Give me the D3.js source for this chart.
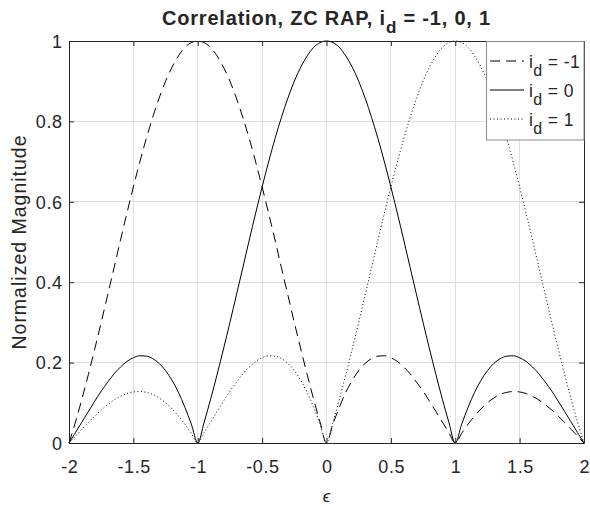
<!DOCTYPE html>
<html><head><meta charset="utf-8">
<script src="https://cdn.jsdelivr.net/npm/d3@7"></script>
<style>
html,body{margin:0;padding:0;background:#fff;}
svg text{font-family:"Liberation Sans",Arial,Helvetica,sans-serif;fill:#262626;}
</style></head>
<body><svg id="chart" width="590" height="506"></svg>
<script>
// ---- data ----
const eps = [-2,-1.95,-1.9,-1.85,-1.8,-1.75,-1.7,-1.65,-1.6,-1.55,
  -1.5,-1.45,-1.4,-1.35,-1.3,-1.25,-1.2,-1.15,-1.1,-1.05,
  -1,-0.95,-0.9,-0.85,-0.8,-0.75,-0.7,-0.65,-0.6,-0.55,
  -0.5,-0.45,-0.4,-0.35,-0.3,-0.25,-0.2,-0.15,-0.1,-0.05,
  0,
  0.05,0.1,0.15,0.2,0.25,0.3,0.35,0.4,0.45,0.5,
  0.55,0.6,0.65,0.7,0.75,0.8,0.85,0.9,0.95,1,
  1.05,1.1,1.15,1.2,1.25,1.3,1.35,1.4,1.45,1.5,
  1.55,1.6,1.65,1.7,1.75,1.8,1.85,1.9,1.95,2];

const idMinus1 = [0.000,0.052,0.109,0.170,0.234,0.300,0.368,0.436,0.505,0.572,
  0.637,0.699,0.757,0.810,0.858,0.900,0.935,0.963,0.984,0.996,
  1.000,
  0.996,0.984,0.963,0.935,0.900,0.858,0.810,0.757,0.699,0.637,
  0.572,0.505,0.436,0.368,0.300,0.234,0.170,0.109,0.052,0.000,
  0.047,0.089,0.126,0.156,0.180,0.198,0.210,0.216,0.217,0.212,
  0.203,0.189,0.172,0.151,0.129,0.104,0.078,0.052,0.026,0.000,
  0.024,0.047,0.067,0.085,0.100,0.112,0.121,0.126,0.128,0.127,
  0.123,0.116,0.107,0.095,0.082,0.067,0.051,0.034,0.017,0.000];

const id0 = [0.000,0.026,0.052,0.078,0.104,0.129,0.151,0.172,0.189,0.203,
  0.212,0.217,0.216,0.210,0.198,0.180,0.156,0.126,0.089,0.047,
  0.000,0.052,0.109,0.170,0.234,0.300,0.368,0.436,0.505,0.572,
  0.637,0.699,0.757,0.810,0.858,0.900,0.935,0.963,0.984,0.996,
  1.000,
  0.996,0.984,0.963,0.935,0.900,0.858,0.810,0.757,0.699,0.637,
  0.572,0.505,0.436,0.368,0.300,0.234,0.170,0.109,0.052,0.000,
  0.047,0.089,0.126,0.156,0.180,0.198,0.210,0.216,0.217,0.212,
  0.203,0.189,0.172,0.151,0.129,0.104,0.078,0.052,0.026,0.000];

const idPlus1 = [0.000,0.017,0.034,0.051,0.067,0.082,0.095,0.107,0.116,0.123,
  0.127,0.128,0.126,0.121,0.112,0.100,0.085,0.067,0.047,0.024,
  0.000,0.026,0.052,0.078,0.104,0.129,0.151,0.172,0.189,0.203,
  0.212,0.217,0.216,0.210,0.198,0.180,0.156,0.126,0.089,0.047,
  0.000,
  0.052,0.109,0.170,0.234,0.300,0.368,0.436,0.505,0.572,0.637,
  0.699,0.757,0.810,0.858,0.900,0.935,0.963,0.984,0.996,1.000,
  0.996,0.984,0.963,0.935,0.900,0.858,0.810,0.757,0.699,0.637,
  0.572,0.505,0.436,0.368,0.300,0.234,0.170,0.109,0.052,0.000];

const seriesLabels = ["-1", "0", "1"];
const xTicks = [-2,-1.5,-1,-0.5,0,0.5,1,1.5,2];
const yTicks = [0,0.2,0.4,0.6,0.8,1];
const titleMain = "Correlation, ZC RAP, i";
const titleSub = "d";
const titleRest = " = -1, 0, 1";
const xLabel = "\u03F5";
const yLabel = "Normalized Magnitude";

// ---- layout ----
const L = 69, R = 584, T = 41, B = 443;
const svg = d3.select("#chart");
const x = d3.scaleLinear().domain([-2, 2]).range([L, R]);
const y = d3.scaleLinear().domain([0, 1]).range([B, T]);
const ink = "#262626";
const FONT = '"Liberation Sans",Arial,Helvetica,sans-serif';

// grid
svg.append("g").selectAll("line").data(xTicks.slice(1,-1)).join("line")
  .attr("x1", d => x(d)).attr("x2", d => x(d)).attr("y1", T).attr("y2", B)
  .attr("stroke", "#dfdfdf").attr("stroke-width", 1).attr("shape-rendering","crispEdges");
svg.append("g").selectAll("line").data(yTicks.slice(1,-1)).join("line")
  .attr("y1", d => y(d)).attr("y2", d => y(d)).attr("x1", L).attr("x2", R)
  .attr("stroke", "#dfdfdf").attr("stroke-width", 1).attr("shape-rendering","crispEdges");

// lines
const series = [
  {vals: idMinus1, dash: "10,6"},
  {vals: id0, dash: null},
  {vals: idPlus1, dash: "1,2.5"}
];
const line = d3.line().x((d,i) => x(eps[i])).y(d => y(d)).curve(d3.curveMonotoneX);
series.forEach(s => {
  svg.append("path").datum(s.vals).attr("d", line)
    .attr("fill", "none").attr("stroke", "#000").attr("stroke-width", 1)
    .attr("stroke-dasharray", s.dash);
});

// axes (ticks inward, box)
const fmt = d => String(d);
const xAxB = svg.append("g").attr("transform", `translate(0,${B})`)
  .call(d3.axisBottom(x).tickValues(xTicks).tickSizeInner(-5).tickSizeOuter(0).tickFormat(fmt));
const xAxT = svg.append("g").attr("transform", `translate(0,${T})`)
  .call(d3.axisTop(x).tickValues(xTicks).tickSizeInner(-5).tickSizeOuter(0).tickFormat(""));
const yAxL = svg.append("g").attr("transform", `translate(${L},0)`)
  .call(d3.axisLeft(y).tickValues(yTicks).tickSizeInner(-5).tickSizeOuter(0).tickFormat(fmt));
const yAxR = svg.append("g").attr("transform", `translate(${R},0)`)
  .call(d3.axisRight(y).tickValues(yTicks).tickSizeInner(-5).tickSizeOuter(0).tickFormat(""));
[xAxB, xAxT, yAxL, yAxR].forEach(g => {
  g.select(".domain").attr("stroke", ink).attr("stroke-width", 1);
  g.selectAll(".tick line").attr("stroke", ink);
  g.selectAll("text").attr("font-size", 18).attr("fill", ink)
    .attr("font-family", FONT).attr("letter-spacing", "0.6px");
});
xAxB.selectAll("text").attr("y", 29.5).attr("dy", null).attr("dx", "0.3px");
yAxL.selectAll("text").attr("x", -6.4).attr("dy", "0.35em");

// title
const tt = svg.append("text").attr("x", (L + R) / 2).attr("y", 25)
  .attr("text-anchor", "middle").attr("font-size", 20).attr("font-weight", "bold")
  .attr("letter-spacing", "0.8px").attr("fill", "#000");
tt.append("tspan").text(titleMain);
tt.append("tspan").attr("dy", 8).attr("font-size", 17).text(titleSub);
tt.append("tspan").attr("dy", -8).text(titleRest);

// axis labels
svg.append("text").attr("x", (L + R) / 2).attr("y", 502).attr("text-anchor", "middle")
  .attr("font-size", 17).attr("font-style", "italic")
  .attr("font-family", '"DejaVu Serif","Liberation Serif",serif').text(xLabel);
svg.append("text").attr("transform", `translate(26,${(T + B) / 2}) rotate(-90)`)
  .attr("text-anchor", "middle").attr("font-size", 19.5).attr("letter-spacing", "1px")
  .text(yLabel);

// legend
const lg = svg.append("g");
lg.append("rect").attr("x", 486.5).attr("y", T + 0.5).attr("width", R - 486.5).attr("height", 140 - T - 0.5)
  .attr("fill", "#fff").attr("stroke", "#8a8a8a").attr("stroke-width", 1);
series.forEach((s, i) => {
  const yy = 61 + i * 29;
  lg.append("line").attr("x1", 490).attr("x2", 524).attr("y1", yy).attr("y2", yy)
    .attr("stroke", "#000").attr("stroke-width", 1).attr("stroke-dasharray", s.dash);
  const t = lg.append("text").attr("x", 529).attr("y", yy + 7).attr("font-size", 17.5)
    .attr("letter-spacing", "0.4px").attr("fill", "#000");
  t.append("tspan").text("i");
  t.append("tspan").attr("dy", 8).attr("font-size", 16).text("d");
  t.append("tspan").attr("dy", -8).text(" = " + seriesLabels[i]);
});
</script></body></html>
